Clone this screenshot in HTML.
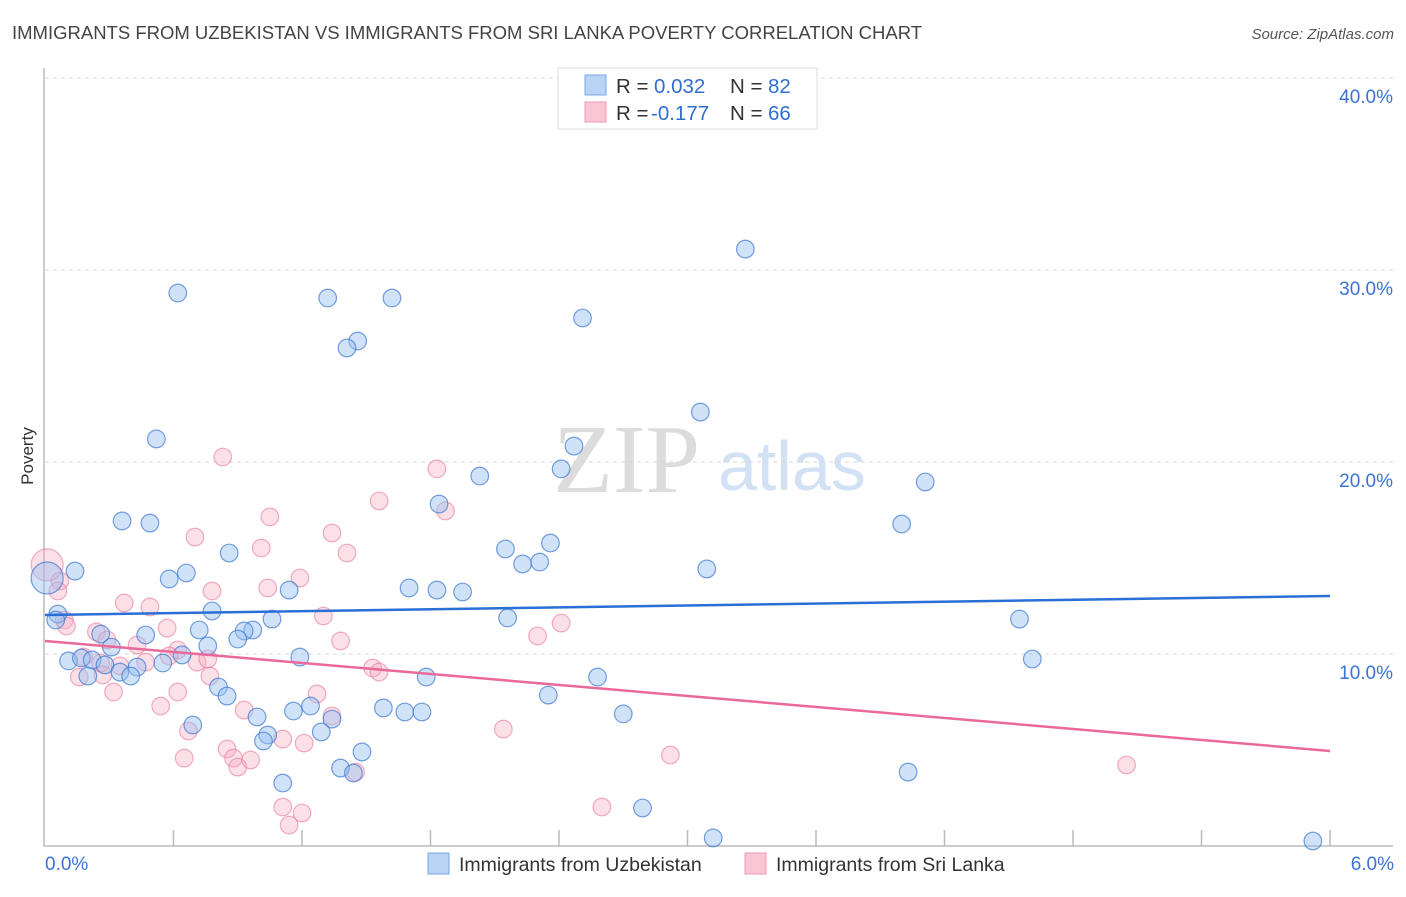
<!DOCTYPE html>
<html><head><meta charset="utf-8"><style>
body{margin:0;background:#fff;width:1406px;height:892px;overflow:hidden;font-family:"Liberation Sans",sans-serif}
</style></head><body>
<svg id="chart" width="1406" height="892" xmlns="http://www.w3.org/2000/svg" font-family="Liberation Sans, sans-serif">
<text x="12" y="39" font-size="18.5" fill="#444">IMMIGRANTS FROM UZBEKISTAN VS IMMIGRANTS FROM SRI LANKA POVERTY CORRELATION CHART</text>
<text x="1394" y="39" font-size="15" fill="#555" font-style="italic" text-anchor="end">Source: ZipAtlas.com</text>
<text x="553" y="492" font-size="98" fill="#dcdcdc" font-family="Liberation Serif, serif">ZIP</text>
<text x="718" y="490" font-size="70" fill="#d3e1f5">atlas</text>
<text transform="translate(33,456) rotate(-90)" font-size="17" fill="#333" text-anchor="middle">Poverty</text>
<g id="grid"></g><g id="pts"></g><g id="lines"></g>
<g>
<rect x="558" y="68" width="259" height="61" fill="#fff" stroke="#ddd"/>
<rect x="585" y="75" width="21" height="20" fill="#b9d3f5" stroke="#7aa6e6"/>
<rect x="585" y="102" width="21" height="20" fill="#f8c6d4" stroke="#ef9ab5"/>
<text x="616" y="93" font-size="20.5" fill="#333">R = <tspan x="654" fill="#2f6fd0">0.032</tspan><tspan x="730">N = </tspan><tspan x="768" fill="#2f6fd0">82</tspan></text>
<text x="616" y="120" font-size="20.5" fill="#333">R = <tspan x="651" fill="#2f6fd0">-0.177</tspan><tspan x="730">N = </tspan><tspan x="768" fill="#2f6fd0">66</tspan></text>
</g>
<g>
<rect x="428" y="853" width="21" height="21" fill="#b9d3f5" stroke="#7aa6e6"/>
<text x="459" y="871" font-size="19.5" fill="#333">Immigrants from Uzbekistan</text>
<rect x="745" y="853" width="21" height="21" fill="#f8c6d4" stroke="#ef9ab5"/>
<text x="776" y="871" font-size="19.5" fill="#333">Immigrants from Sri Lanka</text>
</g>
</svg>
<script>
const yTicks=[10,20,30,40];
const yTickLabels=["10.0%","20.0%","30.0%","40.0%"];
const xTickLabels=["0.0%","6.0%"];
const blueX=[0.62,1.32,1.62,1.46,1.41,2.51,3.27,0.52,0.36,0.49,3.06,2.47,2.41,2.03,1.84,4.11,4.0,0.86,2.15,2.36,2.23,2.31,3.09,0.14,0.58,0.66,1.14,1.70,1.83,1.95,0.78,1.06,2.16,4.55,0.06,0.05,0.72,0.97,0.93,0.90,0.47,0.26,0.31,0.76,0.64,1.19,0.11,0.17,0.22,0.28,0.55,0.43,0.35,0.40,0.20,1.78,2.58,4.61,0.81,0.85,2.35,1.58,1.68,1.76,1.16,1.24,1.34,0.99,0.69,1.04,1.29,1.02,2.70,1.48,1.38,1.44,4.03,1.11,2.79,3.12,5.92,0.01];
const blueY=[28.8,28.54,28.54,26.3,25.94,27.5,31.09,21.2,16.93,16.82,22.6,20.83,19.64,19.27,17.81,18.96,16.77,15.26,15.47,15.78,14.69,14.79,14.43,14.32,13.91,14.22,13.33,13.44,13.33,13.23,12.24,11.82,11.88,11.82,12.08,11.77,11.25,11.25,11.2,10.78,10.99,11.04,10.36,10.42,9.95,9.84,9.64,9.79,9.69,9.43,9.53,9.32,9.06,8.85,8.85,8.8,8.8,9.74,8.28,7.81,7.86,7.19,6.98,6.98,7.03,7.29,6.61,6.72,6.3,5.78,5.94,5.47,6.88,4.9,4.06,3.8,3.85,3.28,1.98,0.42,0.26,13.96];
const pinkX=[0.83,1.83,1.56,1.87,1.05,0.70,1.34,1.01,1.41,1.19,0.78,1.04,0.37,0.49,1.30,2.41,2.30,1.38,0.24,0.29,0.57,0.43,0.62,0.18,0.58,0.71,0.26,0.35,0.47,0.76,1.53,1.56,0.77,0.16,0.27,0.32,0.62,0.54,0.93,1.27,1.34,0.67,1.11,1.21,0.85,0.88,0.96,0.90,0.65,2.14,2.92,5.05,1.45,1.11,1.20,1.14,2.60,0.09,0.07,0.06,0.10,0.01];
const pinkY=[20.26,19.64,17.97,17.45,17.14,16.09,16.3,15.52,15.26,13.96,13.28,13.44,12.66,12.45,11.98,11.61,10.94,10.68,11.15,10.73,11.35,10.47,10.21,9.84,9.9,9.58,9.53,9.38,9.58,9.74,9.27,9.06,8.85,8.8,8.91,8.02,8.02,7.29,7.08,7.92,6.77,5.99,5.57,5.36,5.05,4.58,4.48,4.11,4.58,6.09,4.74,4.22,3.85,2.03,1.72,1.09,2.03,11.77,13.8,13.28,11.46,14.64];
const blueTrend=[12.03,13.02];
const pinkTrend=[10.68,4.95];
const sx=v=>45+v/6*1285, sy=v=>846-v*19.2;
const NS="http://www.w3.org/2000/svg";
function mk(tag,attrs,parent){const e=document.createElementNS(NS,tag);for(const k in attrs)e.setAttribute(k,attrs[k]);parent.appendChild(e);return e;}
const grid=document.getElementById('grid');
yTicks.forEach((t,i)=>{
 const l=mk('line',{x1:45,x2:1393,y1:sy(t),y2:sy(t),stroke:'#d8d8d8','stroke-dasharray':'4,4'},grid);
 
 
 const tx=mk('text',{x:1393,y:sy(t)+25,'font-size':19,fill:'#3b73d4','text-anchor':'end'},grid);
 tx.textContent=yTickLabels[i];
 
 
});
const ax=mk('path',{d:'M44,68 V846 H1393',fill:'none',stroke:'#bbb','stroke-width':1.5},grid);


for(let i=1;i<=10;i++){const x=sx(i*0.6);const t=mk('line',{x1:x,x2:x,y1:846,y2:830,stroke:'#bbb','stroke-width':1.5},grid);
 
 }
[[0,'start',45],[6,'end',1394]].forEach((d,i)=>{const t=mk('text',{x:d[2],y:870,'font-size':19,fill:'#3b73d4','text-anchor':d[1]},grid);t.textContent=xTickLabels[i];
 
 });
const pts=document.getElementById('pts');
function draw(xs,ys,fill,stroke,name){xs.forEach((x,i)=>{const big=x<0.03;
 const c=mk('circle',{cx:sx(x),cy:sy(ys[i]),r:big?16:8.8,fill:fill,stroke:stroke,'stroke-width':1.2},pts);
 
 });}
draw(pinkX,pinkY,'rgba(245,165,190,0.35)','rgba(232,120,155,0.6)','point-sri-lanka');
draw(blueX,blueY,'rgba(150,190,240,0.45)','rgba(60,120,210,0.7)','point-uzbekistan');
const lines=document.getElementById('lines');
const bl=mk('line',{x1:sx(0),x2:sx(6),y1:sy(blueTrend[0]),y2:sy(blueTrend[1]),stroke:'#2a6fd6','stroke-width':2.5},lines);


const pl=mk('line',{x1:sx(0),x2:sx(6),y1:sy(pinkTrend[0]),y2:sy(pinkTrend[1]),stroke:'#e8699a','stroke-width':2.5},lines);


</script>
</body></html>
